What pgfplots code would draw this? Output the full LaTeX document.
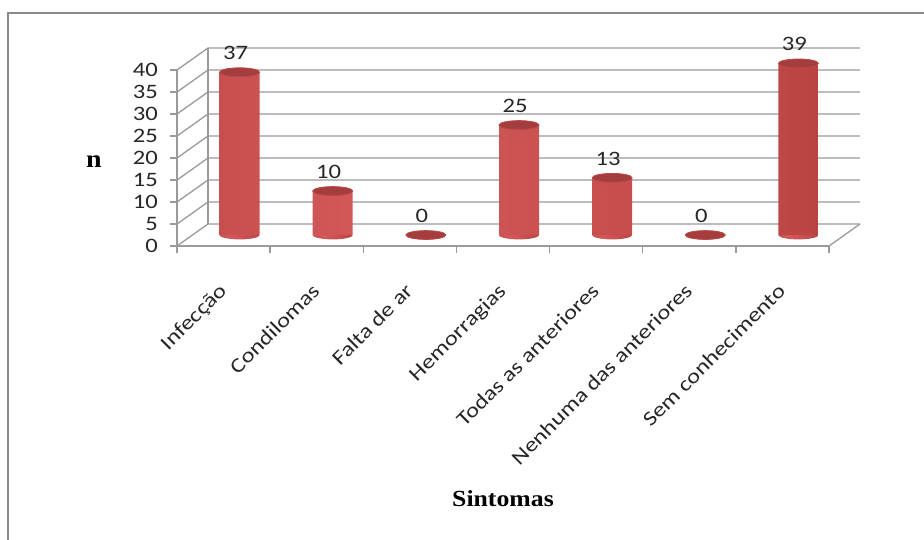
\documentclass[border=0pt]{standalone}
\usepackage{pgfplots}
\usepackage{pgfplotstable}
\pgfplotsset{compat=1.18}
\usepackage{fontspec}
\setmainfont{Carlito}[FakeStretch=1.2]
\newfontfamily\titlefont{Liberation Serif}[FakeStretch=1.12]

\definecolor{gridc}{HTML}{9A9A9A}
\definecolor{framec}{HTML}{8A8A8A}
\definecolor{textc}{HTML}{262626}
\definecolor{barlight}{HTML}{D45A5A}
\definecolor{barmid}{HTML}{BD4646}
\definecolor{bardark}{HTML}{993434}
\definecolor{captop}{HTML}{A43E3E}

% cylinder body: dark edges, highlight left of centre
\pgfdeclarehorizontalshading{cylinder}{100bp}{%
  color(0bp)=(bardark); color(14bp)=(barmid); color(38bp)=(barlight);
  color(72bp)=(barmid); color(100bp)=(bardark)}

% lower half of an elliptic cylinder base, shaded like the body
\pgfdeclareplotmark{cylbase}{%
  \pgfpathmoveto{\pgfqpoint{-\pgfplotmarksize}{0pt}}%
  \pgfpatharc{180}{360}{\pgfplotmarksize and 0.22\pgfplotmarksize}%
  \pgfpathclose
  \pgfshadepath{cylinder}{0}%
  \pgfusepath{discard}%
}

\pgfplotstableread{
x   v
0.5 37
1.5 10
2.5 0
3.5 25
4.5 13
5.5 0
6.5 39
}\sintomas

\begin{document}
\begin{tikzpicture}[x=1pt,y=1pt]
\begin{axis}[
  name=ax, at={(0,0)}, anchor=origin,
  scale only axis, width=652pt, height=176pt,
  xmin=0, xmax=7, ymin=0, ymax=40,
  clip=false,
  axis x line*=bottom, axis y line*=left,
  axis line style={gridc, line width=1.3pt},
  tick style={gridc, line width=1.3pt},
  tick align=outside, major tick length=7pt,
  ytick={0,5,...,40},
  xtick={0,...,7}, xticklabels={},
  extra x ticks={0.5,1.5,...,6.5},
  extra x tick labels={Infecção, Condilomas, Falta de ar, Hemorragias,
    Todas as anteriores, Nenhuma das anteriores, Sem conhecimento},
  extra x tick style={major tick length=0pt,
    xticklabel style={xshift=-6pt, yshift=-36pt, rotate=45, anchor=north east, inner sep=0pt}},
  /pgf/number format/assume math mode=true,
  tick label style={font=\fontsize{20.5}{23}\selectfont, text=textc},
  yticklabel style={anchor=east, inner sep=0pt, xshift=-12pt},
  xlabel={Sintomas}, ylabel={n},
  every axis x label/.style={at={(rel axis cs:0.5,0)}, anchor=center, yshift=-253pt,
    font=\titlefont\bfseries\fontsize{23}{26}\selectfont, text=black},
  every axis y label/.style={at={(rel axis cs:0,0.5)}, anchor=center, xshift=-83pt, yshift=-4pt,
    font=\titlefont\bfseries\fontsize{25}{28}\selectfont, text=black},
]
% back wall, side wall and floor
\pgfplotsinvokeforeach{0,5,...,40}{
  \draw[gridc, line width=1.3pt] (axis cs:0,#1) -- ++(31pt,22pt)
     -- ([shift={(31pt,22pt)}]axis cs:7,#1);
}
\draw[gridc, line width=1.3pt] ([shift={(31pt,22pt)}]axis cs:0,0) -- ([shift={(31pt,22pt)}]axis cs:0,40);
\draw[gridc, line width=1.3pt] (axis cs:7,0) -- ++(31pt,22pt);

% cylinder bases
\addplot[only marks, mark=cylbase, mark size=20pt,
  xshift=16pt, yshift=11pt] table[x=x, y expr=0] {\sintomas};
% cylinder bodies
\addplot[ybar, bar width=40pt, draw=none, shading=cylinder,
  restrict y to domain=0.1:100,
  xshift=16pt, yshift=11pt] table[x=x, y=v] {\sintomas};
% cylinder tops with value labels
\addplot[only marks, mark=*, mark size=20pt,
  mark options={yscale=0.22, fill=captop, draw=barmid, line width=0.8pt},
  xshift=16pt, yshift=11pt,
  nodes near coords,
  nodes near coords style={font=\fontsize{20.5}{23}\selectfont, text=textc,
    anchor=center, yshift=19pt, xshift=-4pt,
    /pgf/number format/assume math mode=true}]
  table[x=x, y=v] {\sintomas};
\end{axis}
\pgfresetboundingbox
\useasboundingbox (ax.origin) ++(-177,-293) rectangle ++(924,539);
% chart frame
\draw[framec, line width=2pt] ([shift={(-169,-320)}]ax.origin) -- ++(0,553) -- ++(960,0);
\end{tikzpicture}
\end{document}
